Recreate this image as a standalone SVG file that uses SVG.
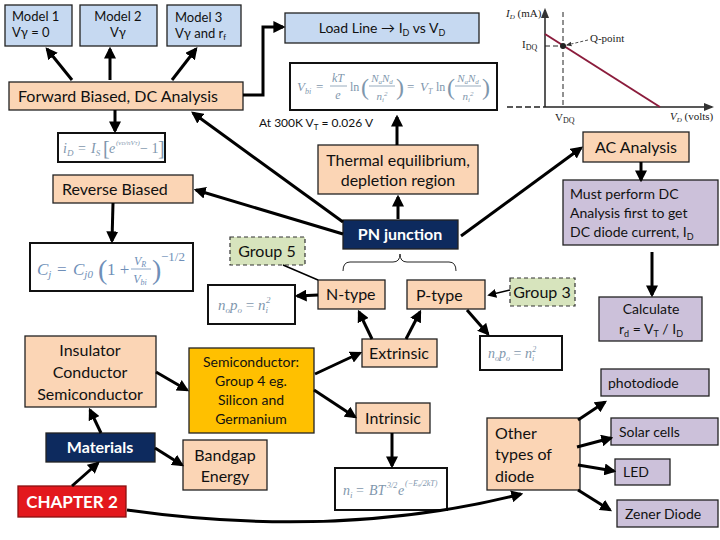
<svg xmlns="http://www.w3.org/2000/svg" width="720" height="540" viewBox="0 0 720 540">
<style>
text{font-family:"Lato","Liberation Sans",sans-serif;fill:#111}
.b{stroke:#222;stroke-width:1.3}
.peach{fill:#fbd5b5}
.blue{fill:#c6d9f1}
.purple{fill:#ccc1da}
.green{fill:#d7e4bd;stroke:#333;stroke-width:1.2;stroke-dasharray:4 3}
.navy{fill:#0d2a5e;stroke:#222;stroke-width:1.3}
.fbox{fill:#fff;stroke:#111;stroke-width:2}
.t15{font-size:16px}
.t14{font-size:14px}
.t13{font-size:13px}
.t14p{font-size:14px}
.w{fill:#fff;font-weight:bold}
.m{font-family:"Liberation Serif",serif;font-style:italic;fill:#7f97ad}
.mn{font-family:"Liberation Serif",serif;fill:#7f97ad}
.cj{font-family:"Liberation Serif",serif;font-style:italic;fill:#6f8fb8}
.g{font-family:"Liberation Serif",serif;fill:#222;font-size:11px}
.conn line,.conn path,.conn polyline{stroke:#000;stroke-width:3;fill:none;marker-end:url(#ah)}
.fl{stroke:#7f97ad;stroke-width:0.8}
</style>
<defs>
<marker id="ah" viewBox="0 0 10 10" refX="8" refY="5" markerWidth="4" markerHeight="4" orient="auto"><path d="M0,0 L10,5 L0,10 z" fill="#000"/></marker>
<marker id="sh" viewBox="0 0 10 10" refX="8" refY="5" markerWidth="6" markerHeight="6" orient="auto"><path d="M0,0 L10,5 L0,10 z" fill="#000"/></marker>
<marker id="gh" viewBox="0 0 10 10" refX="8" refY="5" markerWidth="7" markerHeight="7" orient="auto"><path d="M0,1 L10,5 L0,9 z" fill="#333"/></marker>
</defs>

<!-- Graph -->
<g id="graph">
<line x1="507" y1="107" x2="545" y2="107" stroke="#222" stroke-width="1.5" stroke-dasharray="6 3"/>
<line x1="545" y1="107" x2="712" y2="107" stroke="#222" stroke-width="1.5" marker-end="url(#gh)"/>
<line x1="545" y1="107" x2="545" y2="10" stroke="#222" stroke-width="1.5" marker-end="url(#gh)"/>
<line x1="563" y1="12" x2="563" y2="107" stroke="#222" stroke-width="1" stroke-dasharray="5 3"/>
<line x1="545" y1="46" x2="563" y2="46" stroke="#222" stroke-width="1" stroke-dasharray="5 3"/>
<line x1="545" y1="34" x2="660" y2="107" stroke="#8b1c3c" stroke-width="2"/>
<circle cx="563" cy="46" r="3" fill="#222"/>
<line x1="588" y1="40" x2="567" y2="45" stroke="#222" stroke-width="0.8" stroke-dasharray="3 2" marker-end="url(#gh)"/>
<text x="506" y="17" class="g"><tspan font-style="italic">I</tspan><tspan font-size="7" dy="2" font-style="italic">D</tspan><tspan dy="-2"> (mA)</tspan></text>
<text x="522" y="48" class="g" font-size="12">I<tspan font-size="8" dy="2">DQ</tspan></text>
<text x="590" y="42" class="g">Q-point</text>
<text x="555" y="121" class="g" font-size="12">V<tspan font-size="8" dy="2">DQ</tspan></text>
<text x="670" y="120" class="g"><tspan font-style="italic">V</tspan><tspan font-size="7" dy="2" font-style="italic">D</tspan><tspan dy="-2"> (volts)</tspan></text>
</g>

<!-- Nodes -->
<g id="model1"><rect x="5" y="5" width="67" height="41" class="blue b"/><text x="12" y="21" class="t13">Model 1</text><text x="12" y="37" class="t13">Vγ = 0</text></g>
<g id="model2"><rect x="80" y="5" width="77" height="41" class="blue b"/><text x="118" y="21" class="t13" text-anchor="middle">Model 2</text><text x="118" y="37" class="t13" text-anchor="middle">Vγ</text></g>
<g id="model3"><rect x="167" y="5" width="74" height="41" class="blue b"/><text x="175" y="22" class="t13">Model 3</text><text x="175" y="38" class="t13">Vγ and r<tspan font-size="8" dy="2">f</tspan></text></g>
<g id="loadline"><rect x="285" y="13" width="194" height="30" class="blue b"/><text x="382" y="33" class="t14" text-anchor="middle">Load Line → I<tspan font-size="9" dy="3">D</tspan><tspan dy="-3"> vs V</tspan><tspan font-size="9" dy="3">D</tspan></text></g>
<g id="forward"><rect x="9" y="82" width="234" height="28" class="peach b"/><text x="18" y="102" class="t15">Forward Biased, DC Analysis</text></g>

<g id="vbi"><rect x="290" y="63" width="207" height="47" class="fbox"/>
<text x="297" y="91" class="m" font-size="13">V<tspan font-size="8" dy="3">bi</tspan></text>
<text x="316" y="91" class="mn" font-size="13">=</text>
<text x="338" y="82" class="m" font-size="12" text-anchor="middle">kT</text><line x1="330" y1="86" x2="347" y2="86" class="fl"/><text x="338" y="99" class="m" font-size="12" text-anchor="middle">e</text>
<text x="350" y="91" class="mn" font-size="12">ln</text>
<text x="361" y="95" class="mn" font-size="24">(</text>
<text x="382" y="82" class="m" font-size="11" text-anchor="middle">N<tspan font-size="7" dy="2">a</tspan><tspan dy="-2">N</tspan><tspan font-size="7" dy="2">d</tspan></text><line x1="369" y1="86" x2="395" y2="86" class="fl"/><text x="382" y="100" class="m" font-size="11" text-anchor="middle">n<tspan font-size="7" dy="2">i</tspan><tspan font-size="7" dy="-6">2</tspan></text>
<text x="396" y="95" class="mn" font-size="24">)</text>
<text x="407" y="91" class="mn" font-size="13">=</text>
<text x="420" y="91" class="m" font-size="13">V<tspan font-size="8" dy="3">T</tspan></text>
<text x="436" y="91" class="mn" font-size="12">ln</text>
<text x="447" y="95" class="mn" font-size="24">(</text>
<text x="468" y="82" class="m" font-size="11" text-anchor="middle">N<tspan font-size="7" dy="2">a</tspan><tspan dy="-2">N</tspan><tspan font-size="7" dy="2">d</tspan></text><line x1="455" y1="86" x2="481" y2="86" class="fl"/><text x="468" y="100" class="m" font-size="11" text-anchor="middle">n<tspan font-size="7" dy="2">i</tspan><tspan font-size="7" dy="-6">2</tspan></text>
<text x="482" y="95" class="mn" font-size="24">)</text>
</g>
<g id="at300"><text x="259" y="127" font-size="12">At 300K V<tspan font-size="8" dy="3">T</tspan><tspan dy="-3"> = 0.026 V</tspan></text></g>

<g id="id"><rect x="58" y="133" width="107" height="29" class="fbox"/>
<text x="63" y="153" class="m" font-size="14">i<tspan font-size="9" dy="3">D</tspan></text>
<text x="78" y="153" class="mn" font-size="14">=</text>
<text x="91" y="153" class="m" font-size="14">I<tspan font-size="9" dy="3">S</tspan></text>
<text x="103" y="155" class="mn" font-size="20">[</text>
<text x="109" y="153" class="m" font-size="14">e</text>
<text x="116" y="145" class="m" font-size="7">(v<tspan font-size="5">D</tspan>/nV<tspan font-size="5">T</tspan>)</text>
<text x="140" y="153" class="mn" font-size="14">− 1</text>
<text x="158" y="155" class="mn" font-size="20">]</text>
</g>

<g id="reverse"><rect x="53" y="175" width="140" height="28" class="peach b"/><text x="62" y="195" class="t15">Reverse Biased</text></g>

<g id="cj"><rect x="30" y="243" width="163" height="48" class="fbox" stroke-width="1.3"/>
<text x="37" y="275" class="cj" font-size="17">C<tspan font-size="11" dy="3">j</tspan></text>
<text x="57" y="275" class="mn" font-size="17" style="fill:#6f8fb8">=</text>
<text x="73" y="275" class="cj" font-size="17">C<tspan font-size="11" dy="3">j0</tspan></text>
<text x="98" y="279" class="mn" font-size="28" style="fill:#6f8fb8">(</text>
<text x="107" y="275" class="mn" font-size="17" style="fill:#6f8fb8">1 +</text>
<text x="140" y="265" class="cj" font-size="12" text-anchor="middle">V<tspan font-size="8" dy="2">R</tspan></text><line x1="131" y1="269" x2="151" y2="269" stroke="#6f8fb8" stroke-width="0.8"/><text x="140" y="283" class="cj" font-size="12" text-anchor="middle">V<tspan font-size="8" dy="2">bi</tspan></text>
<text x="152" y="279" class="mn" font-size="28" style="fill:#6f8fb8">)</text>
<text x="161" y="261" class="mn" font-size="13" style="fill:#6f8fb8">−1/2</text>
</g>

<g id="thermal"><rect x="318" y="145" width="160" height="49" class="peach b"/><text x="398" y="166" class="t15" text-anchor="middle">Thermal equilibrium,</text><text x="398" y="186" class="t15" text-anchor="middle">depletion region</text></g>
<g id="ac"><rect x="583" y="132" width="106" height="30" class="peach b"/><text x="636" y="153" class="t15" text-anchor="middle">AC Analysis</text></g>
<g id="must"><rect x="563" y="180" width="155" height="65" class="purple b"/><text x="570" y="199" class="t14p">Must perform DC</text><text x="570" y="218" class="t14p">Analysis first to get</text><text x="570" y="237" class="t14p">DC diode current, I<tspan font-size="9" dy="3">D</tspan></text></g>
<g id="calc"><rect x="599" y="297" width="103" height="44" class="purple b"/><text x="651" y="314" class="t14p" text-anchor="middle">Calculate</text><text x="651" y="334" class="t14p" text-anchor="middle">r<tspan font-size="9" dy="3">d</tspan><tspan dy="-3"> = V</tspan><tspan font-size="9" dy="3">T</tspan><tspan dy="-3"> / I</tspan><tspan font-size="9" dy="3">D</tspan></text></g>

<g id="pn"><rect x="343" y="220" width="115" height="29" class="navy"/><text x="400" y="240" class="t15 w" text-anchor="middle">PN junction</text></g>
<g id="group5"><rect x="230" y="237" width="75" height="28" class="green"/><text x="267" y="257" class="t15" text-anchor="middle">Group 5</text></g>
<g id="group3"><rect x="510" y="278" width="65" height="28" class="green"/><text x="542" y="298" class="t15" text-anchor="middle">Group 3</text></g>
<g id="brace"><path d="M343,271 Q343,262 350,262 L393,262 Q400,262 400,254 Q400,262 407,262 L449,262 Q456,262 456,271" fill="none" stroke="#222" stroke-width="1"/></g>
<g id="ntype"><rect x="318" y="280" width="67" height="29" class="peach b"/><text x="326" y="300" class="t15">N-type</text></g>
<g id="ptype"><rect x="407" y="280" width="78" height="29" class="peach b"/><text x="416" y="301" class="t15">P-type</text></g>

<g id="nopo1"><rect x="208" y="285" width="87" height="39" class="fbox"/><text x="218" y="310" class="m" font-size="15">n<tspan font-size="9" dy="3">o</tspan><tspan dy="-3">p</tspan><tspan font-size="9" dy="3">o</tspan><tspan dy="-3" class="mn" font-style="normal"> = </tspan><tspan>n</tspan><tspan font-size="9" dy="3">i</tspan><tspan font-size="9" dy="-10" dx="-2">2</tspan></text></g>
<g id="nopo2"><rect x="480" y="336" width="82" height="34" class="fbox"/><text x="488" y="358" class="m" font-size="14">n<tspan font-size="8" dy="3">o</tspan><tspan dy="-3">p</tspan><tspan font-size="8" dy="3">o</tspan><tspan dy="-3" class="mn" font-style="normal"> = </tspan><tspan>n</tspan><tspan font-size="8" dy="3">i</tspan><tspan font-size="8" dy="-9" dx="-2">2</tspan></text></g>

<g id="extrinsic"><rect x="362" y="339" width="75" height="28" class="peach b"/><text x="399" y="359" class="t15" text-anchor="middle">Extrinsic</text></g>
<g id="intrinsic"><rect x="356" y="403" width="74" height="30" class="peach b"/><text x="393" y="424" class="t15" text-anchor="middle">Intrinsic</text></g>
<g id="ni"><rect x="335" y="468" width="112" height="42" class="fbox"/>
<text x="343" y="495" class="m" font-size="14">n<tspan font-size="9" dy="3">i</tspan></text>
<text x="356" y="495" class="mn" font-size="14">=</text>
<text x="369" y="495" class="m" font-size="14">BT</text>
<text x="387" y="488" class="m" font-size="8">3/2</text>
<text x="398" y="495" class="m" font-size="14">e</text>
<text x="405" y="486" class="m" font-size="8">(−E<tspan font-size="5">g</tspan>/2kT)</text>
</g>

<g id="semi"><rect x="189" y="348" width="125" height="85" fill="#ffc000" class="b"/><text x="251" y="367" class="t14p" text-anchor="middle">Semiconductor:</text><text x="251" y="386" class="t14p" text-anchor="middle">Group 4 eg.</text><text x="251" y="405" class="t14p" text-anchor="middle">Silicon and</text><text x="251" y="424" class="t14p" text-anchor="middle">Germanium</text></g>
<g id="insulator"><rect x="25" y="336" width="131" height="71" class="peach b"/><text x="90" y="356" class="t15" text-anchor="middle">Insulator</text><text x="90" y="378" class="t15" text-anchor="middle">Conductor</text><text x="90" y="400" class="t15" text-anchor="middle">Semiconductor</text></g>
<g id="materials"><rect x="46" y="433" width="109" height="29" class="navy"/><text x="100" y="453" class="t15 w" text-anchor="middle">Materials</text></g>
<g id="bandgap"><rect x="183" y="440" width="84" height="50" class="peach b"/><text x="225" y="461" class="t15" text-anchor="middle">Bandgap</text><text x="225" y="482" class="t15" text-anchor="middle">Energy</text></g>
<g id="chapter"><rect x="18" y="486" width="108" height="31" fill="#e3181d" stroke="#8a1010" stroke-width="1.3"/><text x="72" y="508" font-size="17" class="w" text-anchor="middle">CHAPTER 2</text></g>

<g id="other"><rect x="487" y="418" width="93" height="72" class="peach b"/><text x="495" y="439" class="t15">Other</text><text x="495" y="460" class="t15">types of</text><text x="495" y="482" class="t15">diode</text></g>
<g id="photo"><rect x="601" y="369" width="108" height="27" class="purple b"/><text x="608" y="388" class="t14p">photodiode</text></g>
<g id="solar"><rect x="611" y="418" width="107" height="27" class="purple b"/><text x="619" y="437" class="t14p">Solar cells</text></g>
<g id="led"><rect x="615" y="459" width="55" height="26" class="purple b"/><text x="623" y="477" class="t14p">LED</text></g>
<g id="zener"><rect x="617" y="500" width="101" height="27" class="purple b"/><text x="625" y="519" class="t14p">Zener Diode</text></g>

<!-- Connectors -->
<g id="connectors" class="conn">
<line x1="72" y1="80" x2="47" y2="49"/>
<line x1="110" y1="80" x2="110" y2="49"/>
<line x1="172" y1="80" x2="196" y2="49"/>
<polyline points="243,95 263,95 263,27 283,27"/>
<line x1="115" y1="110" x2="115" y2="131"/>
<line x1="113" y1="203" x2="112" y2="241"/>
<line x1="343" y1="222" x2="193" y2="113"/>
<line x1="343" y1="234" x2="196" y2="190"/>
<line x1="398" y1="219" x2="398" y2="197"/>
<line x1="397" y1="145" x2="397" y2="117"/>
<line x1="461" y1="236" x2="581" y2="148"/>
<line x1="641" y1="162" x2="641" y2="180"/>
<line x1="652" y1="252" x2="652" y2="295"/>
<line x1="318" y1="295" x2="297" y2="296"/>
<line x1="467" y1="310" x2="488" y2="334"/>
<line x1="372" y1="339" x2="359" y2="312"/>
<line x1="406" y1="339" x2="420" y2="312"/>
<line x1="315" y1="374" x2="360" y2="353"/>
<line x1="314" y1="390" x2="355" y2="417"/>
<line x1="392" y1="433" x2="392" y2="466"/>
<line x1="156" y1="372" x2="187" y2="390"/>
<line x1="101" y1="433" x2="90" y2="410"/>
<line x1="155" y1="448" x2="182" y2="465"/>
<line x1="72" y1="486" x2="98" y2="463"/>
<path d="M127,510 Q340,540 521,494"/>
<line x1="578" y1="420" x2="605" y2="402"/>
<line x1="577" y1="447" x2="611" y2="438"/>
<line x1="578" y1="465" x2="614" y2="471"/>
<line x1="578" y1="490" x2="610" y2="510"/>
<line x1="510" y1="290" x2="489" y2="295" style="stroke-width:1.5;marker-end:url(#sh)"/>
<line x1="283" y1="265" x2="318" y2="280" style="stroke-width:1.5;marker-end:none"/>
</g>
</svg>
